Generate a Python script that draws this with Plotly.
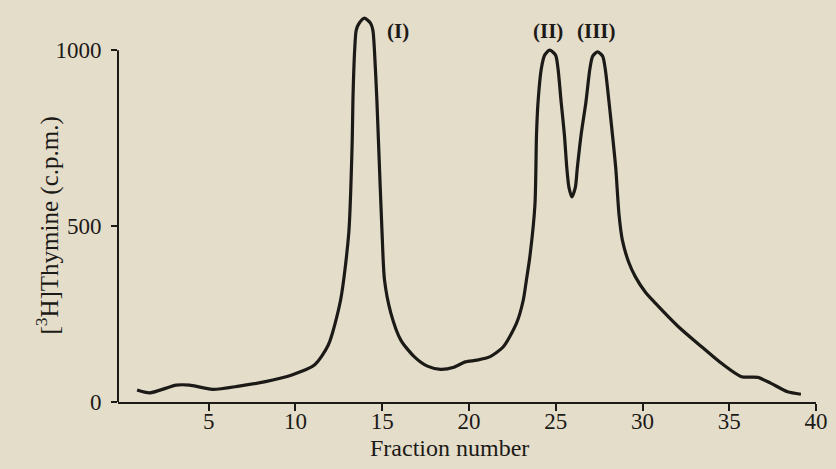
import plotly.graph_objects as go

# Fraction number and [3H]thymine counts traced along the elution profile
fraction = [0.87, 1.6, 3.13, 3.89, 5.22, 6.74, 8.27, 9.79, 11.09, 11.89, 12.6, 13.07,
            13.27, 13.31, 13.41, 13.5, 13.66, 13.98, 14.33, 14.46, 14.55, 14.69, 14.78,
            14.99, 15.13, 15.5, 16.07, 16.84, 17.6, 18.36, 19.13, 19.79, 20.46, 21.22,
            21.98, 22.74, 23.13, 23.31, 23.5, 23.8, 23.89, 23.98, 24.17, 24.36, 24.65,
            24.99, 25.13, 25.31, 25.5, 25.64, 25.76, 25.93, 26.13, 26.24, 26.46, 26.74,
            26.97, 27.13, 27.41, 27.7, 27.85, 28.07, 28.27, 28.46, 28.65, 28.84, 29.2,
            29.6, 30.17, 30.74, 32.07, 33.41, 34.55, 35.7, 36.65, 37.41, 38.36, 39.13]
cpm = [34, 26, 48, 48, 36, 45, 58, 77, 105, 162, 290, 480,
       744, 858, 1000, 1057, 1076, 1091, 1076, 1057, 1000, 858, 744,
       480, 347, 252, 176, 129, 102, 93, 99, 114, 119, 129,
       157, 224, 290, 347, 410, 560, 759, 853, 948, 986, 1000,
       986, 948, 853, 759, 664, 610, 583, 610, 664, 759, 853,
       948, 983, 995, 983, 948, 853, 759, 664, 531, 460, 398,
       355, 312, 281, 214, 157, 110, 72, 70, 53, 29, 22]

peak_labels = ["(I)", "(II)", "(III)"]
peak_x = [15.9, 24.57, 27.37]
peak_y = [1054, 1054, 1054]

x_ticks = [5, 10, 15, 20, 25, 30, 35, 40]
y_ticks = [0, 500, 1000]

ink = "#1c1a17"
paper = "#e4ddca"
serif = "Liberation Serif"

fig = go.Figure()
fig.add_trace(go.Scatter(
    x=fraction, y=cpm, mode="lines",
    line=dict(color=ink, width=3.2, shape="spline", smoothing=0.7),
    hoverinfo="skip", showlegend=False,
))

for lab, px, py in zip(peak_labels, peak_x, peak_y):
    fig.add_annotation(x=px, y=py, text=f"<b>{lab}</b>", showarrow=False,
                       font=dict(family=serif, size=21, color=ink))

# vertical axis line drawn only up to the 1000 tick
fig.add_shape(type="line", xref="paper", yref="y", x0=0, x1=0, y0=0, y1=1000,
              line=dict(color=ink, width=2))

fig.add_annotation(xref="paper", yref="y", x=0, y=500, xshift=-89,
                   text="[<sup>3</sup>H]Thymine (c.p.m.)", textangle=-90,
                   showarrow=False, font=dict(family=serif, size=25, color=ink))
fig.add_annotation(xref="x", yref="paper", x=18.86, y=0, yshift=-46,
                   text="Fraction number", showarrow=False, yanchor="middle",
                   font=dict(family=serif, size=24, color=ink))

fig.update_layout(
    width=836, height=469,
    margin=dict(l=118, r=14, t=8, b=67),
    paper_bgcolor=paper, plot_bgcolor=paper,
    font=dict(family=serif, size=23, color=ink),
    xaxis=dict(range=[-0.23, 40], tickvals=x_ticks, ticks="outside", ticklen=7,
               tickwidth=2, tickcolor=ink, showline=True, linecolor=ink, linewidth=2,
               showgrid=False, zeroline=False, ticklabelstandoff=-10,
               tickfont=dict(family=serif, size=23, color=ink)),
    yaxis=dict(range=[0, 1120], tickvals=y_ticks, ticks="outside", ticklen=6,
               tickwidth=2, tickcolor=ink, showline=False, showgrid=False,
               zeroline=False, ticklabelstandoff=5,
               tickfont=dict(family=serif, size=23, color=ink)),
)

fig.write_html("out.html")
